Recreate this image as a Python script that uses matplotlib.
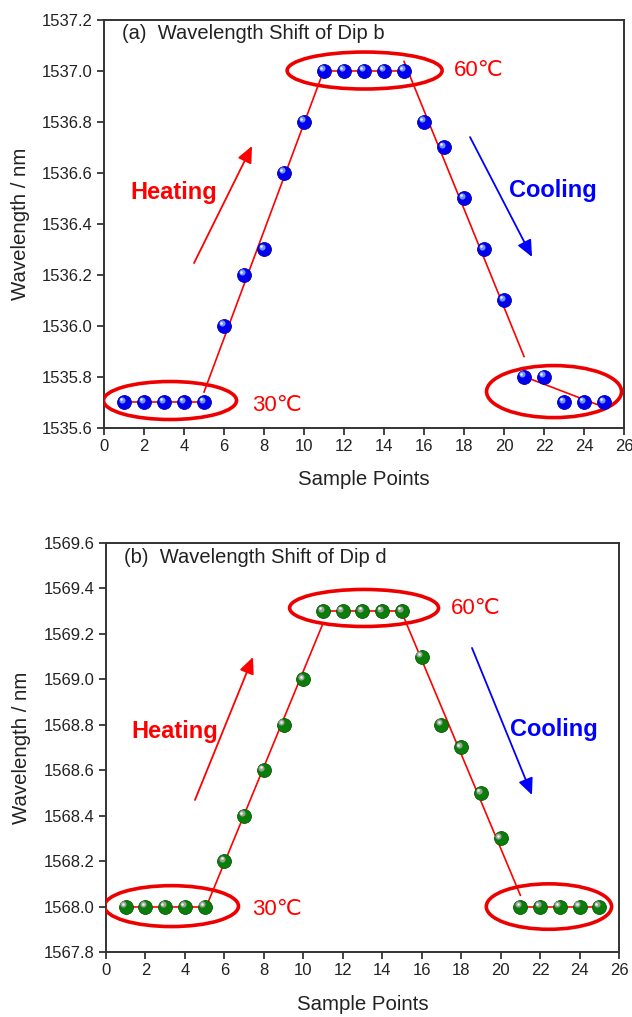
import numpy as np
import matplotlib
matplotlib.use("Agg")
import matplotlib.pyplot as plt
from matplotlib.patches import Ellipse
from matplotlib.transforms import offset_copy

plt.rcParams['font.family'] = ['Liberation Sans', 'DejaVu Sans']

# ---- data ----
sample_points = list(range(1, 26))
dip_b = [1535.7, 1535.7, 1535.7, 1535.7, 1535.7,
         1536.0, 1536.2, 1536.3, 1536.6, 1536.8,
         1537.0, 1537.0, 1537.0, 1537.0, 1537.0,
         1536.8, 1536.7, 1536.5, 1536.3, 1536.1,
         1535.8, 1535.8, 1535.7, 1535.7, 1535.7]
dip_d = [1568.0, 1568.0, 1568.0, 1568.0, 1568.0,
         1568.2, 1568.4, 1568.6, 1568.8, 1569.0,
         1569.3, 1569.3, 1569.3, 1569.3, 1569.3,
         1569.1, 1568.8, 1568.7, 1568.5, 1568.3,
         1568.0, 1568.0, 1568.0, 1568.0, 1568.0]
# sample ranges (first, last) for the piecewise linear fits
fit_segments = [(1, 5), (5, 11), (11, 15), (15, 21), (21, 25)]

titles = ["(a)  Wavelength Shift of Dip b", "(b)  Wavelength Shift of Dip d"]
ylims = [(1535.6, 1537.2), (1567.8, 1569.6)]

fig = plt.figure(figsize=(6.32, 10.17), dpi=100)
ax_a = fig.add_axes([0.1646, 0.5796, 0.8228, 0.4012])
ax_b = fig.add_axes([0.1677, 0.0639, 0.8117, 0.4022])


def draw_spheres(ax, x, y, base, edge, shine, glint):
    ax.plot(x, y, 'o', ms=10, color=base, mec=edge, mew=0.6, zorder=5)
    tr = offset_copy(ax.transData, fig=fig, x=-1.7, y=1.7, units='points')
    ax.plot(x, y, 'o', ms=4.4, color=shine, mec='none', transform=tr, zorder=6, alpha=0.9)
    tr2 = offset_copy(ax.transData, fig=fig, x=-2.0, y=2.0, units='points')
    ax.plot(x, y, 'o', ms=1.9, color=glint, mec='none', transform=tr2, zorder=7)


def draw_fits(ax, x, y):
    x = np.asarray(x)
    y = np.asarray(y)
    for a, b in fit_segments:
        m = (x >= a) & (x <= b)
        k, c = np.polyfit(x[m], y[m], 1)
        xs = np.array([a, b])
        ax.plot(xs, k * xs + c, color='#ff0000', lw=1.2, zorder=4)


def style_axes(ax, ylim, title):
    ax.set_xlim(0, 26)
    ax.set_ylim(*ylim)
    ax.set_xticks(np.arange(0, 27, 2))
    ax.set_yticks(np.round(np.arange(ylim[0], ylim[1] + 0.01, 0.2), 1))
    ax.yaxis.set_major_formatter(matplotlib.ticker.FormatStrFormatter('%.1f'))
    ax.tick_params(direction='out', length=5, width=1.2, labelsize=12,
                   colors='#222222', pad=3)
    for s in ax.spines.values():
        s.set_linewidth(1.4)
        s.set_color('#333333')
    ax.set_xlabel('Sample Points', fontsize=14.7, color='#222222', labelpad=12)
    ax.set_ylabel('Wavelength / nm', fontsize=14.7, color='#222222', labelpad=9)
    ax.text(0.035, 0.988, title, transform=ax.transAxes, ha='left', va='top',
            fontsize=14.5, color='#222222')


def annotate(ax, ellipses, t60, t30, heat, cool):
    for (cx, cy, w, h) in ellipses:
        ax.add_patch(Ellipse((cx, cy), w, h, fill=False, ec='#ee0000', lw=2.6, zorder=3))
    ax.text(*t60, '60℃', color='#ff0000', fontsize=16, ha='left', va='center')
    ax.text(*t30, '30℃', color='#ff0000', fontsize=16, ha='left', va='center')
    ax.annotate('', xy=heat[1], xytext=heat[0],
                arrowprops=dict(arrowstyle='-|>,head_length=1.0,head_width=0.45',
                                color='#ff0000', lw=1.3, shrinkA=0, shrinkB=0))
    ax.annotate('', xy=cool[1], xytext=cool[0],
                arrowprops=dict(arrowstyle='-|>,head_length=1.0,head_width=0.45',
                                color='#0000ff', lw=1.3, shrinkA=0, shrinkB=0))


# ---- (a) Dip b ----
draw_fits(ax_a, sample_points, dip_b)
draw_spheres(ax_a, sample_points, dip_b, '#0000ee', '#0000b0', '#7fa8ff', '#e8f0ff')
style_axes(ax_a, ylims[0], titles[0])
annotate(ax_a,
         [(13.03, 1537.0, 7.75, 0.145), (3.3, 1535.706, 6.65, 0.149), (22.5, 1535.741, 6.75, 0.204)],
         (17.5, 1537.0), (7.4, 1535.685),
         ((4.5, 1536.245), (7.4, 1536.704)), ((18.3, 1536.739), (21.4, 1536.269)))
ax_a.text(1.3, 1536.52, 'Heating', color='#ff0000', fontsize=17, fontweight='bold',
          ha='left', va='center')
ax_a.text(20.25, 1536.53, 'Cooling', color='#0000ff', fontsize=17, fontweight='bold',
          ha='left', va='center')

# ---- (b) Dip d ----
draw_fits(ax_b, sample_points, dip_d)
draw_spheres(ax_b, sample_points, dip_d, '#0b7d0b', '#075a07', '#a8a8a8', '#f0f0f0')
style_axes(ax_b, ylims[1], titles[1])
annotate(ax_b,
         [(13.08, 1569.314, 7.55, 0.163), (3.32, 1568.002, 6.79, 0.18), (22.45, 1568.0, 6.35, 0.2)],
         (17.5, 1569.31), (7.4, 1567.985),
         ((4.51, 1568.469), (7.45, 1569.098)), ((18.55, 1569.138), (21.59, 1568.491)))
ax_b.text(1.3, 1568.77, 'Heating', color='#ff0000', fontsize=17, fontweight='bold',
          ha='left', va='center')
ax_b.text(20.5, 1568.78, 'Cooling', color='#0000ff', fontsize=17, fontweight='bold',
          ha='left', va='center')

fig.savefig('out.png', dpi=100, facecolor='white')
